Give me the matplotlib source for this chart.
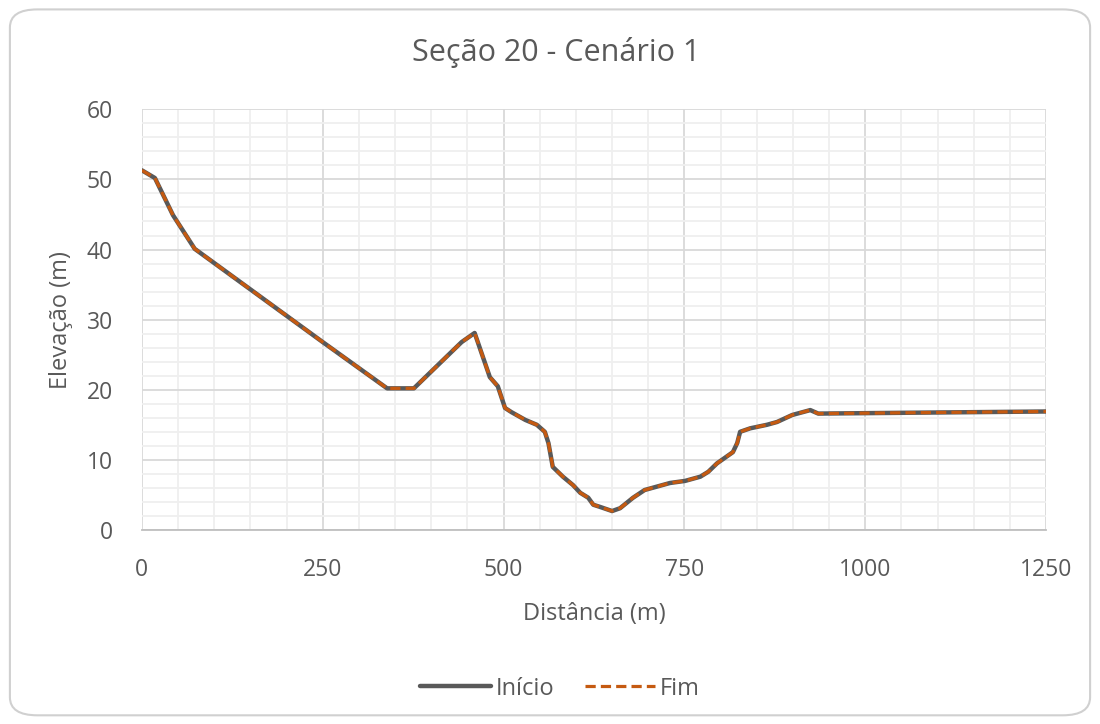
import matplotlib
matplotlib.use("Agg")
import matplotlib.pyplot as plt
from matplotlib.patches import FancyBboxPatch
from matplotlib.ticker import MultipleLocator

# dados da seção
dist = [0, 18, 43, 73, 250, 339, 376, 442, 460, 481, 492, 502, 511, 530, 546,
        557, 562, 568, 582, 596, 606, 617, 624, 633, 650, 661, 679, 695, 709, 730,
        751, 772, 783, 795, 817, 823, 827, 841, 864, 878, 899, 924, 935, 1250]
elev_inicio = [51.3, 50.2, 44.9, 40.1, 26.8, 20.2, 20.2, 26.8, 28.1, 21.8, 20.5,
               17.4, 16.8, 15.7, 15.0, 14.0, 12.4, 9.0, 7.6, 6.4, 5.3, 4.6, 3.6, 3.3,
               2.7, 3.1, 4.6, 5.7, 6.1, 6.7, 7.0, 7.6, 8.3, 9.5, 11.1, 12.4, 14.0,
               14.5, 15.0, 15.4, 16.4, 17.1, 16.6, 16.9]
elev_fim = list(elev_inicio)

cinza = '#595959'
laranja = '#C55A11'

plt.rcParams['font.family'] = ['Open Sans', 'DejaVu Sans']
fig = plt.figure(figsize=(11, 7.24), dpi=100)

borda = FancyBboxPatch((0.009, 0.012), 0.982, 0.975, boxstyle="round,pad=0,rounding_size=0.025",
                       transform=fig.transFigure, facecolor='white', edgecolor='#D0D0D0',
                       linewidth=1.5, zorder=-1)
fig.patches.append(borda)

ax = fig.add_axes([0.129, 0.268, 0.822, 0.581])
ax.set_facecolor('none')

ax.plot(dist, elev_inicio, color=cinza, linewidth=3.2, label='Início', zorder=3,
        solid_capstyle='round', solid_joinstyle='round')
ax.plot(dist, elev_fim, color=laranja, linewidth=2.3, linestyle=(0, (3.2, 1.6)),
        label='Fim', zorder=4)

ax.set_xlim(0, 1250)
ax.set_ylim(0, 60)
ax.xaxis.set_major_locator(MultipleLocator(250))
ax.xaxis.set_minor_locator(MultipleLocator(50))
ax.yaxis.set_major_locator(MultipleLocator(10))
ax.yaxis.set_minor_locator(MultipleLocator(2))
ax.grid(which='major', color='#D9D9D9', linewidth=1.3)
ax.grid(which='minor', color='#EFEFEF', linewidth=1.3)
ax.set_axisbelow(True)

for s in ['top', 'right', 'left']:
    ax.spines[s].set_visible(False)
ax.spines['bottom'].set_color('#BFBFBF')
ax.spines['bottom'].set_linewidth(1.3)
ax.tick_params(which='both', length=0, labelsize=16.5, labelcolor=cinza)
ax.tick_params(axis='x', pad=20)
ax.tick_params(axis='y', pad=21)

fig.text(0.506, 0.928, 'Seção 20 - Cenário 1', fontsize=22, color=cinza,
         ha='center', va='center')
ax.set_xlabel('Distância (m)', fontsize=17, color=cinza, va='center')
ax.xaxis.set_label_coords(0.5, -0.2)
ax.set_ylabel('Elevação (m)', fontsize=17, color=cinza, va='center')
ax.yaxis.set_label_coords(-0.09, 0.5)

leg = fig.legend(loc='center', bbox_to_anchor=(0.509, 0.049), ncol=2, frameon=False,
                 fontsize=17, handlelength=3.0, handletextpad=0.2, columnspacing=1.3,
                 labelcolor=cinza)

fig.savefig('out.png', dpi=100)
